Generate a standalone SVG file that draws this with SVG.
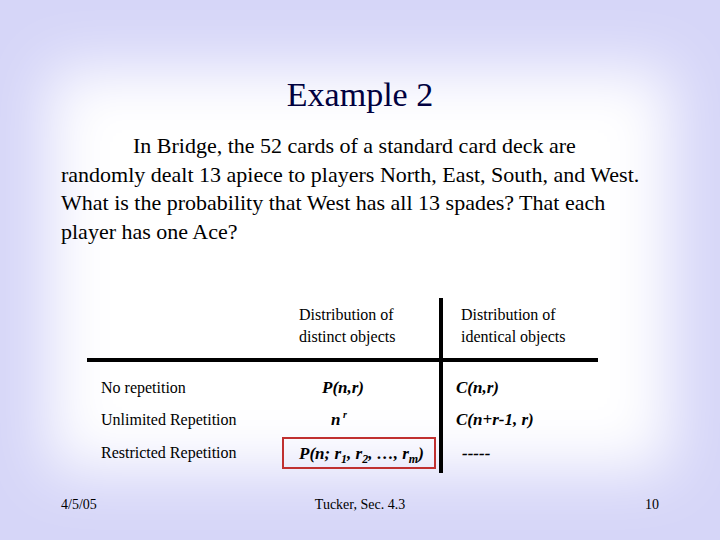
<svg xmlns="http://www.w3.org/2000/svg" width="720" height="540" viewBox="0 0 720 540">
<defs>
<filter id="blur" x="-20%" y="-20%" width="140%" height="140%"><feGaussianBlur stdDeviation="30"/></filter>
<style>
text{font-family:"Liberation Serif","Times New Roman","DejaVu Serif",serif;fill:#000}
.m{font-weight:bold;font-style:italic;font-size:17px}
.s{font-size:16px}
</style>
</defs>
<rect width="720" height="540" fill="#d6d6f8"/>
<rect x="50" y="70" width="620" height="400" fill="#ffffff" filter="url(#blur)"/>
<g id="title"><text x="360" y="106" text-anchor="middle" font-size="34" style="fill:#000040">Example 2</text></g>
<g id="body" font-size="22">
<text x="133" y="153">In Bridge, the 52 cards of a standard card deck are</text>
<text x="61" y="182">randomly dealt 13 apiece to players North, East, South, and West.</text>
<text x="61" y="210">What is the probability that West has all 13 spades? That each</text>
<text x="61" y="239">player has one Ace?</text>
</g>
<g id="connectors" stroke="#000" stroke-width="4">
<line x1="87" y1="360" x2="598" y2="360"/>
<line x1="441" y1="298" x2="441" y2="473"/>
</g>
<g id="headers">
<text class="s" x="299" y="320">Distribution of</text>
<text class="s" x="299" y="342">distinct objects</text>
<text class="s" x="461" y="320">Distribution of</text>
<text class="s" x="461" y="342">identical objects</text>
</g>
<g id="rows">
<text class="s" x="101" y="393">No repetition</text>
<text class="s" x="101" y="425">Unlimited Repetition</text>
<text class="s" x="101" y="458">Restricted Repetition</text>
</g>
<g id="cells">
<text class="m" x="322" y="393">P(n,r)</text>
<text class="m" x="331" y="425">n<tspan font-size="10" dy="-7"> r</tspan></text>
<text class="m" x="456" y="393">C(n,r)</text>
<text class="m" x="456" y="425">C(n+r-1, r)</text>
<g id="highlight"><rect x="283" y="438" width="152" height="30" fill="none" stroke="#c03030" stroke-width="2"/>
<text class="m" x="299" y="459">P(n; r<tspan font-size="12" dy="4">1</tspan><tspan dy="-4">, r</tspan><tspan font-size="12" dy="4">2</tspan><tspan dy="-4">, …, r</tspan><tspan font-size="12" dy="4">m</tspan><tspan dy="-4">)</tspan></text></g>
<text class="m" x="462" y="459">-----</text>
</g>
<g id="footer" font-size="14">
<text x="61" y="509">4/5/05</text>
<text x="360" y="509" text-anchor="middle">Tucker,  Sec. 4.3</text>
<text x="659" y="509" text-anchor="end">10</text>
</g>
</svg>
